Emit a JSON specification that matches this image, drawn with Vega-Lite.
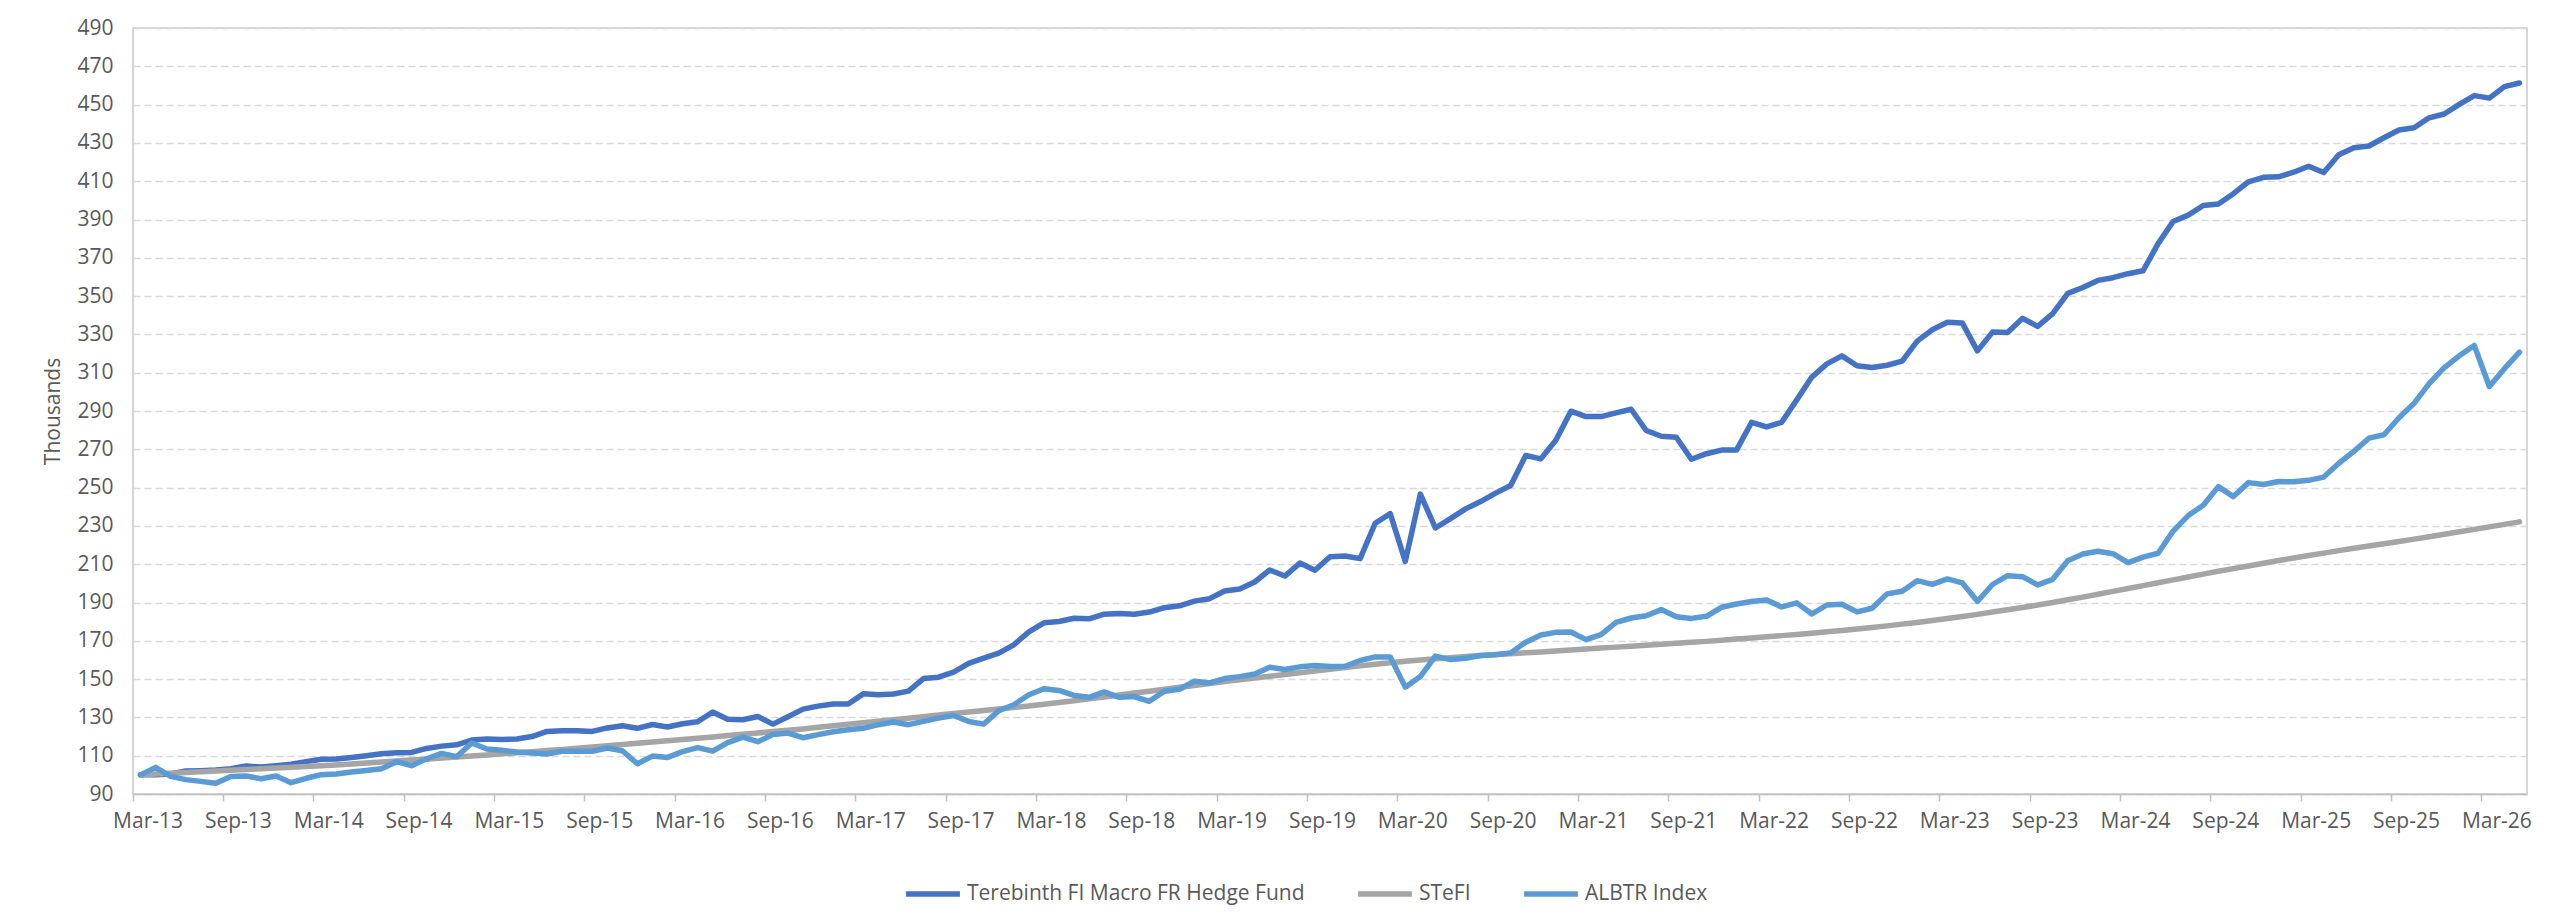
{
  "$schema": "https://vega.github.io/schema/vega-lite/v6.json",
  "width": 2394,
  "height": 766,
  "autosize": {"type": "none"},
  "padding": {"left": 133, "top": 28, "right": 33, "bottom": 125},
  "background": "white",
  "config": {
    "font": "Open Sans",
    "view": {"stroke": "#C9C9C9", "strokeWidth": 1.5}
  },
  "data": {
    "values": [
      {"m": "Mar-13", "t": 100, "s": 100, "a": 100},
      {"m": "Apr-13", "t": 100, "s": 100.4, "a": 103.9},
      {"m": "May-13", "t": 100.5, "s": 100.8, "a": 99.2},
      {"m": "Jun-13", "t": 102, "s": 101.2, "a": 97.5},
      {"m": "Jul-13", "t": 102.2, "s": 101.6, "a": 96.6},
      {"m": "Aug-13", "t": 102.5, "s": 102, "a": 95.6},
      {"m": "Sep-13", "t": 103.2, "s": 102.4, "a": 99.2},
      {"m": "Oct-13", "t": 104.6, "s": 102.8, "a": 99.4},
      {"m": "Nov-13", "t": 104.1, "s": 103.2, "a": 98},
      {"m": "Dec-13", "t": 104.8, "s": 103.6, "a": 99.4},
      {"m": "Jan-14", "t": 105.6, "s": 104, "a": 95.9},
      {"m": "Feb-14", "t": 106.9, "s": 104.4, "a": 98.2},
      {"m": "Mar-14", "t": 108.1, "s": 104.8, "a": 100.1},
      {"m": "Apr-14", "t": 108.3, "s": 105.2, "a": 100.4},
      {"m": "May-14", "t": 109.1, "s": 105.7, "a": 101.5},
      {"m": "Jun-14", "t": 110, "s": 106.2, "a": 102.3},
      {"m": "Jul-14", "t": 111, "s": 106.7, "a": 103.2},
      {"m": "Aug-14", "t": 111.6, "s": 107.2, "a": 106.9},
      {"m": "Sep-14", "t": 111.7, "s": 107.7, "a": 104.8},
      {"m": "Oct-14", "t": 113.8, "s": 108.2, "a": 108.4},
      {"m": "Nov-14", "t": 115, "s": 108.8, "a": 111.2},
      {"m": "Dec-14", "t": 115.7, "s": 109.3, "a": 109.5},
      {"m": "Jan-15", "t": 118.2, "s": 109.8, "a": 116.6},
      {"m": "Feb-15", "t": 118.7, "s": 110.4, "a": 113.5},
      {"m": "Mar-15", "t": 118.5, "s": 111, "a": 112.8},
      {"m": "Apr-15", "t": 118.7, "s": 111.5, "a": 111.9},
      {"m": "May-15", "t": 120, "s": 112.1, "a": 111.4},
      {"m": "Jun-15", "t": 122.7, "s": 112.7, "a": 110.9},
      {"m": "Jul-15", "t": 123, "s": 113.3, "a": 112.3},
      {"m": "Aug-15", "t": 123, "s": 113.9, "a": 112.3},
      {"m": "Sep-15", "t": 122.7, "s": 114.5, "a": 112.3},
      {"m": "Oct-15", "t": 124.5, "s": 115.2, "a": 114},
      {"m": "Nov-15", "t": 125.6, "s": 115.8, "a": 112.6},
      {"m": "Dec-15", "t": 124.3, "s": 116.5, "a": 105.8},
      {"m": "Jan-16", "t": 126.3, "s": 117.1, "a": 109.8},
      {"m": "Feb-16", "t": 125, "s": 117.8, "a": 109.1},
      {"m": "Mar-16", "t": 126.7, "s": 118.4, "a": 112.1},
      {"m": "Apr-16", "t": 127.7, "s": 119.1, "a": 114.2},
      {"m": "May-16", "t": 132.8, "s": 119.8, "a": 112.4},
      {"m": "Jun-16", "t": 129, "s": 120.5, "a": 116.8},
      {"m": "Jul-16", "t": 128.8, "s": 121.2, "a": 119.7},
      {"m": "Aug-16", "t": 130.5, "s": 121.9, "a": 117.3},
      {"m": "Sep-16", "t": 126.5, "s": 122.6, "a": 121.1},
      {"m": "Oct-16", "t": 130.3, "s": 123.3, "a": 121.8},
      {"m": "Nov-16", "t": 134.3, "s": 124, "a": 119.4},
      {"m": "Dec-16", "t": 135.9, "s": 124.8, "a": 121},
      {"m": "Jan-17", "t": 137, "s": 125.6, "a": 122.5},
      {"m": "Feb-17", "t": 137, "s": 126.4, "a": 123.6},
      {"m": "Mar-17", "t": 142.3, "s": 127.2, "a": 124.3},
      {"m": "Apr-17", "t": 141.8, "s": 128, "a": 126.2},
      {"m": "May-17", "t": 142.2, "s": 128.8, "a": 127.6},
      {"m": "Jun-17", "t": 143.7, "s": 129.6, "a": 126.2},
      {"m": "Jul-17", "t": 150.3, "s": 130.4, "a": 127.9},
      {"m": "Aug-17", "t": 151, "s": 131.2, "a": 129.6},
      {"m": "Sep-17", "t": 153.6, "s": 132, "a": 131},
      {"m": "Oct-17", "t": 158.2, "s": 132.8, "a": 127.9},
      {"m": "Nov-17", "t": 161, "s": 133.6, "a": 126.5},
      {"m": "Dec-17", "t": 163.6, "s": 134.4, "a": 133.5},
      {"m": "Jan-18", "t": 167.9, "s": 135.2, "a": 136.6},
      {"m": "Feb-18", "t": 174.7, "s": 136, "a": 141.8},
      {"m": "Mar-18", "t": 179.4, "s": 136.9, "a": 145},
      {"m": "Apr-18", "t": 180.1, "s": 137.8, "a": 144.1},
      {"m": "May-18", "t": 181.8, "s": 138.7, "a": 141.5},
      {"m": "Jun-18", "t": 181.5, "s": 139.7, "a": 140.5},
      {"m": "Jul-18", "t": 183.9, "s": 140.7, "a": 143.3},
      {"m": "Aug-18", "t": 184.3, "s": 141.7, "a": 140.5},
      {"m": "Sep-18", "t": 183.9, "s": 142.7, "a": 140.9},
      {"m": "Oct-18", "t": 185, "s": 143.7, "a": 138.4},
      {"m": "Nov-18", "t": 187.3, "s": 144.7, "a": 143.7},
      {"m": "Dec-18", "t": 188.3, "s": 145.7, "a": 144.7},
      {"m": "Jan-19", "t": 190.7, "s": 146.7, "a": 148.9},
      {"m": "Feb-19", "t": 192, "s": 147.7, "a": 148},
      {"m": "Mar-19", "t": 196, "s": 148.7, "a": 150.3},
      {"m": "Apr-19", "t": 197, "s": 149.7, "a": 151.3},
      {"m": "May-19", "t": 200.7, "s": 150.6, "a": 152.7},
      {"m": "Jun-19", "t": 207, "s": 151.5, "a": 156.2},
      {"m": "Jul-19", "t": 203.8, "s": 152.4, "a": 155},
      {"m": "Aug-19", "t": 210.6, "s": 153.3, "a": 156.4},
      {"m": "Sep-19", "t": 206.8, "s": 154.2, "a": 157.1},
      {"m": "Oct-19", "t": 213.9, "s": 155.1, "a": 156.6},
      {"m": "Nov-19", "t": 214.3, "s": 156, "a": 156.7},
      {"m": "Dec-19", "t": 212.9, "s": 156.9, "a": 159.7},
      {"m": "Jan-20", "t": 231.4, "s": 157.7, "a": 161.6},
      {"m": "Feb-20", "t": 236.4, "s": 158.5, "a": 161.6},
      {"m": "Mar-20", "t": 211.5, "s": 159.3, "a": 145.8},
      {"m": "Apr-20", "t": 246.6, "s": 160, "a": 151.3},
      {"m": "May-20", "t": 228.9, "s": 160.6, "a": 162},
      {"m": "Jun-20", "t": 233.8, "s": 161.2, "a": 160.2},
      {"m": "Jul-20", "t": 238.9, "s": 161.8, "a": 160.9},
      {"m": "Aug-20", "t": 242.7, "s": 162.3, "a": 162.3},
      {"m": "Sep-20", "t": 247.1, "s": 162.8, "a": 162.7},
      {"m": "Oct-20", "t": 251.1, "s": 163.3, "a": 163.7},
      {"m": "Nov-20", "t": 266.8, "s": 163.8, "a": 169.3},
      {"m": "Dec-20", "t": 265, "s": 164.2, "a": 173},
      {"m": "Jan-21", "t": 274.7, "s": 164.7, "a": 174.4},
      {"m": "Feb-21", "t": 289.9, "s": 165.2, "a": 174.6},
      {"m": "Mar-21", "t": 287.1, "s": 165.7, "a": 170.6},
      {"m": "Apr-21", "t": 287.1, "s": 166.2, "a": 173.2},
      {"m": "May-21", "t": 289, "s": 166.7, "a": 179.6},
      {"m": "Jun-21", "t": 290.9, "s": 167.2, "a": 181.9},
      {"m": "Jul-21", "t": 279.8, "s": 167.7, "a": 183.1},
      {"m": "Aug-21", "t": 276.8, "s": 168.2, "a": 186.3},
      {"m": "Sep-21", "t": 276.3, "s": 168.7, "a": 182.6},
      {"m": "Oct-21", "t": 264.8, "s": 169.2, "a": 181.7},
      {"m": "Nov-21", "t": 267.7, "s": 169.7, "a": 182.8},
      {"m": "Dec-21", "t": 269.6, "s": 170.3, "a": 187.5},
      {"m": "Jan-22", "t": 269.6, "s": 170.9, "a": 189.2},
      {"m": "Feb-22", "t": 284.1, "s": 171.5, "a": 190.5},
      {"m": "Mar-22", "t": 281.7, "s": 172.1, "a": 191.3},
      {"m": "Apr-22", "t": 284.1, "s": 172.7, "a": 187.7},
      {"m": "May-22", "t": 295.8, "s": 173.3, "a": 189.8},
      {"m": "Jun-22", "t": 307.7, "s": 174, "a": 184},
      {"m": "Jul-22", "t": 314.6, "s": 174.7, "a": 188.7},
      {"m": "Aug-22", "t": 318.8, "s": 175.4, "a": 189.1},
      {"m": "Sep-22", "t": 313.6, "s": 176.2, "a": 185.1},
      {"m": "Oct-22", "t": 312.7, "s": 177, "a": 187},
      {"m": "Nov-22", "t": 313.9, "s": 177.8, "a": 194.5},
      {"m": "Dec-22", "t": 316, "s": 178.7, "a": 195.9},
      {"m": "Jan-23", "t": 326.5, "s": 179.6, "a": 201.4},
      {"m": "Feb-23", "t": 332.4, "s": 180.6, "a": 199.5},
      {"m": "Mar-23", "t": 336.3, "s": 181.6, "a": 202.3},
      {"m": "Apr-23", "t": 335.9, "s": 182.7, "a": 200.2},
      {"m": "May-23", "t": 321.4, "s": 183.8, "a": 190.6},
      {"m": "Jun-23", "t": 331.2, "s": 185, "a": 199.4},
      {"m": "Jul-23", "t": 331, "s": 186.2, "a": 204},
      {"m": "Aug-23", "t": 338.4, "s": 187.4, "a": 203.5},
      {"m": "Sep-23", "t": 334.2, "s": 188.7, "a": 199.2},
      {"m": "Oct-23", "t": 340.8, "s": 190, "a": 202.1},
      {"m": "Nov-23", "t": 351.4, "s": 191.4, "a": 211.8},
      {"m": "Dec-23", "t": 354.5, "s": 192.8, "a": 215.3},
      {"m": "Jan-24", "t": 358.2, "s": 194.3, "a": 216.8},
      {"m": "Feb-24", "t": 359.6, "s": 195.8, "a": 215.5},
      {"m": "Mar-24", "t": 361.7, "s": 197.3, "a": 210.8},
      {"m": "Apr-24", "t": 363.2, "s": 198.8, "a": 213.7},
      {"m": "May-24", "t": 377.4, "s": 200.3, "a": 215.7},
      {"m": "Jun-24", "t": 389, "s": 201.8, "a": 227.3},
      {"m": "Jul-24", "t": 392.3, "s": 203.3, "a": 235.4},
      {"m": "Aug-24", "t": 397.3, "s": 204.8, "a": 240.8},
      {"m": "Sep-24", "t": 398.1, "s": 206.3, "a": 250.5},
      {"m": "Oct-24", "t": 403.5, "s": 207.7, "a": 245.3},
      {"m": "Nov-24", "t": 409.7, "s": 209.1, "a": 252.6},
      {"m": "Dec-24", "t": 412, "s": 210.5, "a": 251.6},
      {"m": "Jan-25", "t": 412.3, "s": 211.9, "a": 253.2},
      {"m": "Feb-25", "t": 414.7, "s": 213.2, "a": 253},
      {"m": "Mar-25", "t": 417.8, "s": 214.5, "a": 253.8},
      {"m": "Apr-25", "t": 414.5, "s": 215.8, "a": 255.5},
      {"m": "May-25", "t": 423.8, "s": 217.1, "a": 262.7},
      {"m": "Jun-25", "t": 427.5, "s": 218.3, "a": 268.9},
      {"m": "Jul-25", "t": 428.4, "s": 219.5, "a": 275.8},
      {"m": "Aug-25", "t": 432.7, "s": 220.7, "a": 277.6},
      {"m": "Sep-25", "t": 436.7, "s": 221.9, "a": 286.5},
      {"m": "Oct-25", "t": 437.9, "s": 223.1, "a": 294},
      {"m": "Nov-25", "t": 443.1, "s": 224.3, "a": 304.3},
      {"m": "Dec-25", "t": 445.1, "s": 225.6, "a": 312.6},
      {"m": "Jan-26", "t": 450.1, "s": 226.9, "a": 318.8},
      {"m": "Feb-26", "t": 454.7, "s": 228.2, "a": 324.2},
      {"m": "Mar-26", "t": 453.4, "s": 229.5, "a": 302.8},
      {"m": "Apr-26", "t": 459.4, "s": 230.8, "a": 312.1},
      {"m": "May-26", "t": 461.3, "s": 232.1, "a": 320.7}
    ]
  },
  "transform": [{"fold": ["t", "s", "a"], "as": ["series", "value"]}],
  "mark": {"type": "line", "strokeWidth": 5.5, "strokeCap": "round", "strokeJoin": "round"},
  "encoding": {
    "x": {
      "field": "m",
      "type": "ordinal",
      "sort": null,
      "scale": {"type": "band", "paddingInner": 0, "paddingOuter": 0},
      "axis": {
        "values": ["Mar-13", "Sep-13", "Mar-14", "Sep-14", "Mar-15", "Sep-15", "Mar-16", "Sep-16", "Mar-17", "Sep-17", "Mar-18", "Sep-18", "Mar-19", "Sep-19", "Mar-20", "Sep-20", "Mar-21", "Sep-21", "Mar-22", "Sep-22", "Mar-23", "Sep-23", "Mar-24", "Sep-24", "Mar-25", "Sep-25", "Mar-26"],
        "bandPosition": 0,
        "labelOffset": 7.5,
        "labelAngle": 0,
        "labelFontSize": 21,
        "labelColor": "#595959",
        "labelPadding": 9,
        "tickSize": 7,
        "tickColor": "#BFBFBF",
        "tickWidth": 1.5,
        "domainColor": "#BFBFBF",
        "domainWidth": 1.5,
        "grid": false,
        "title": null
      }
    },
    "y": {
      "field": "value",
      "type": "quantitative",
      "scale": {"domain": [90, 490], "nice": false, "zero": false},
      "axis": {
        "values": [90, 110, 130, 150, 170, 190, 210, 230, 250, 270, 290, 310, 330, 350, 370, 390, 410, 430, 450, 470, 490],
        "title": "Thousands",
        "titleFontSize": 21,
        "titleFontWeight": "normal",
        "titleColor": "#595959",
        "titlePadding": 13,
        "labelFontSize": 21,
        "labelColor": "#595959",
        "labelPadding": 20,
        "ticks": false,
        "domain": false,
        "grid": true,
        "gridColor": "#D9D9D9",
        "gridDash": [7, 4],
        "gridWidth": 1.5
      }
    },
    "color": {
      "field": "series",
      "type": "nominal",
      "scale": {"domain": ["t", "s", "a"], "range": ["#4472C4", "#A5A5A5", "#5B9BD5"]},
      "legend": {
        "title": null,
        "orient": "none",
        "legendX": 770,
        "legendY": 836,
        "direction": "horizontal",
        "symbolType": "stroke",
        "symbolSize": 2900,
        "symbolStrokeWidth": 5.5,
        "labelExpr": "datum.value == 't' ? 'Terebinth FI Macro FR Hedge Fund' : datum.value == 's' ? 'STeFI' : 'ALBTR Index'",
        "labelLimit": 0,
        "labelFontSize": 21,
        "labelColor": "#595959",
        "labelOffset": 4,
        "columnPadding": 42
      }
    }
  }
}
